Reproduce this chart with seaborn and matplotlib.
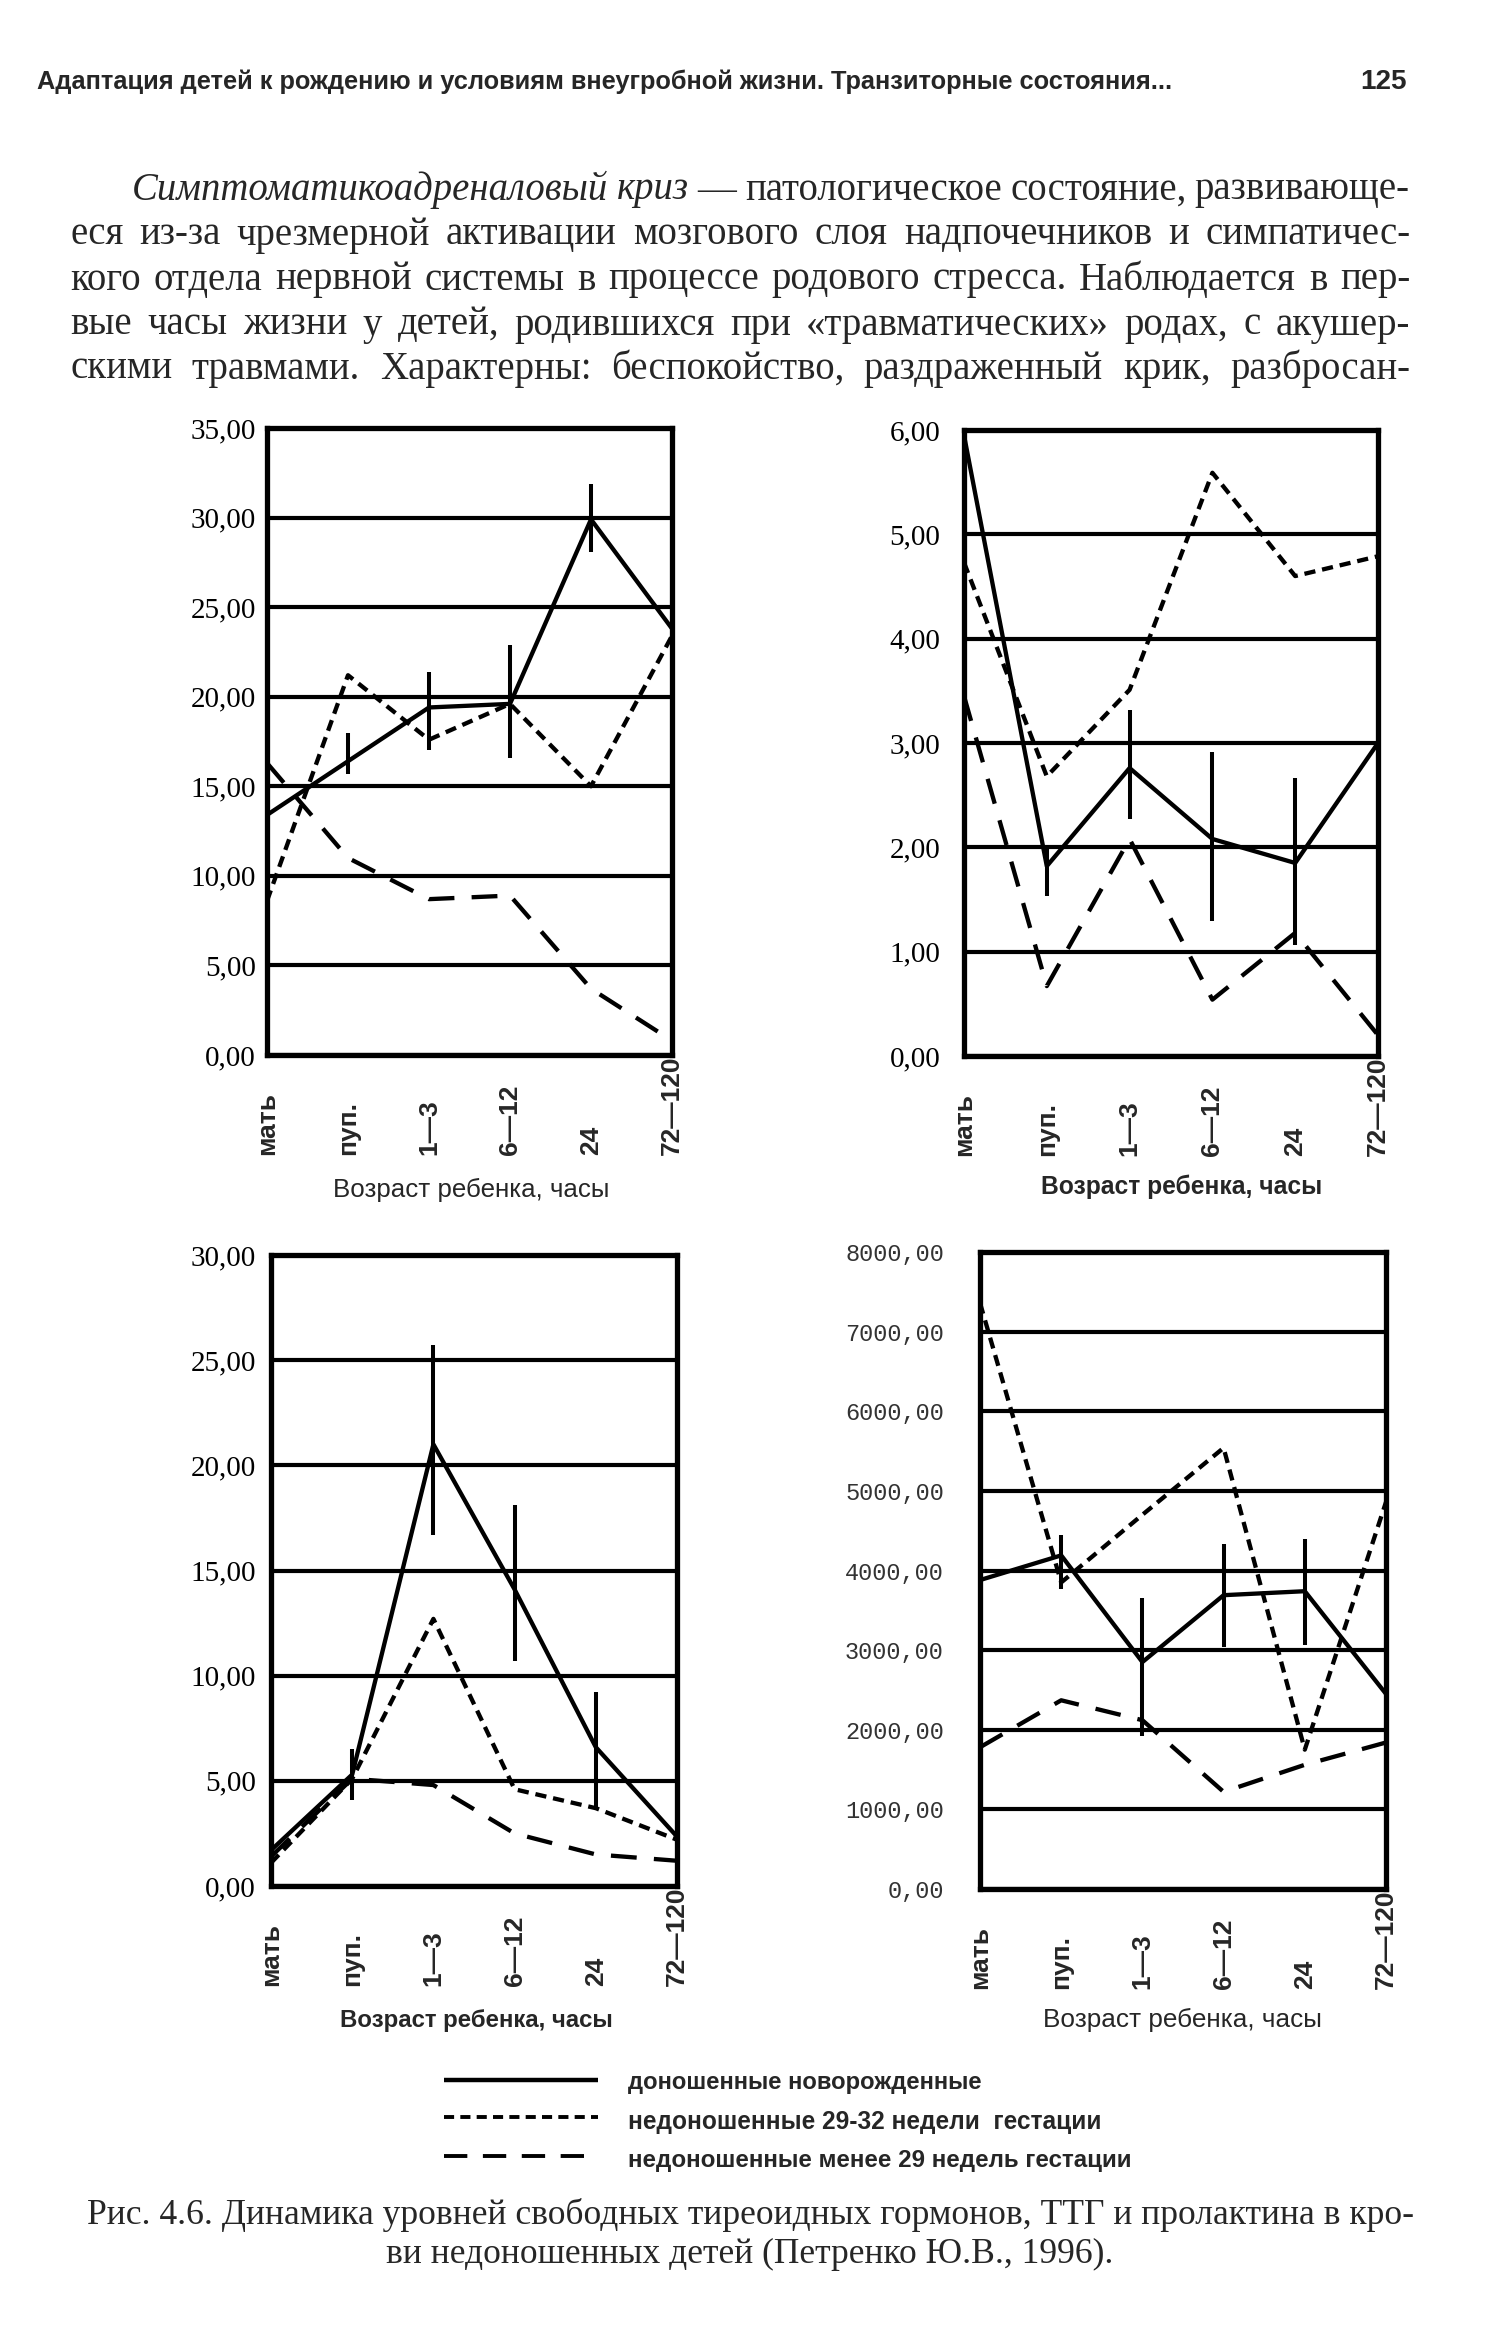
import numpy as np
import pandas as pd
import matplotlib
matplotlib.use("Agg")
import matplotlib.pyplot as plt
import seaborn as sns
from matplotlib import font_manager
from matplotlib.lines import Line2D

nan = np.nan

# ---------------- data ----------------
categories = ["мать", "пуп.", "1—3", "6—12", "24", "72—120"]
groups = ["доношенные новорожденные",
          "недоношенные 29-32 недели  гестации",
          "недоношенные менее 29 недель гестации"]

# panel A (top-left)
a_term = [13.4, 16.4, 19.4, 19.6, 29.9, 23.8]
a_term_lo = [nan, 15.7, 17.0, 16.6, 28.1, nan]
a_term_hi = [nan, 18.0, 21.4, 22.9, 31.9, nan]
a_p2932 = [8.6, 21.2, 17.6, 19.6, 15.0, 23.4]
a_p29 = [16.3, 11.0, 8.7, 8.9, 3.7, 0.8]
a_yticks = [0, 5, 10, 15, 20, 25, 30, 35]
a_ylabels = ["0,00", "5,00", "10,00", "15,00", "20,00", "25,00", "30,00", "35,00"]

# panel B (top-right)
b_term = [5.95, 1.82, 2.76, 2.08, 1.85, 3.0]
b_term_lo = [nan, 1.53, 2.27, 1.29, 1.06, nan]
b_term_hi = [nan, 1.99, 3.32, 2.91, 2.66, nan]
b_p2932 = [4.73, 2.68, 3.51, 5.59, 4.60, 4.79]
b_p29 = [3.45, 0.67, 2.08, 0.54, 1.18, 0.20]
b_yticks = [0, 1, 2, 3, 4, 5, 6]
b_ylabels = ["0,00", "1,00", "2,00", "3,00", "4,00", "5,00", "6,00"]

# panel C (bottom-left)
c_term = [1.7, 5.3, 21.0, 14.1, 6.6, 2.35]
c_term_lo = [nan, 4.1, 16.7, 10.7, 3.6, nan]
c_term_hi = [nan, 6.5, 25.7, 18.1, 9.2, nan]
c_p2932 = [1.1, 5.1, 12.7, 4.6, 3.7, 2.2]
c_p29 = [1.4, 5.1, 4.8, 2.5, 1.5, 1.2]
c_yticks = [0, 5, 10, 15, 20, 25, 30]
c_ylabels = ["0,00", "5,00", "10,00", "15,00", "20,00", "25,00", "30,00"]

# panel D (bottom-right)
d_term = [3880, 4190, 2850, 3690, 3740, 2450]
d_term_lo = [nan, 3770, 1920, 3040, 3070, nan]
d_term_hi = [nan, 4440, 3660, 4330, 4390, nan]
d_p2932 = [7360, 3850, 4700, 5540, 1750, 4860]
d_p29 = [1780, 2370, 2120, 1220, 1560, 1840]
d_yticks = [0, 1000, 2000, 3000, 4000, 5000, 6000, 7000, 8000]
d_ylabels = ["0,00", "1000,00", "2000,00", "3000,00", "4000,00",
             "5000,00", "6000,00", "7000,00", "8000,00"]

xlabel_text = "Возраст ребенка, часы"

header_text = "Адаптация детей к рождению и условиям внеугробной жизни. Транзиторные состояния..."
page_number = "125"

para_lines = [
    [("Симптоматикоадреналовый", "italic"), ("криз", "italic"), ("—", "normal"),
     ("патологическое", "normal"), ("состояние,", "normal"), ("развивающе-", "normal")],
    "еся из-за чрезмерной активации мозгового слоя надпочечников и симпатичес-",
    "кого отдела нервной системы в процессе родового стресса. Наблюдается в пер-",
    "вые часы жизни у детей, родившихся при «травматических» родах, с акушер-",
    "скими травмами. Характерны: беспокойство, раздраженный крик, разбросан-",
]
caption_1 = "Рис. 4.6. Динамика уровней свободных тиреоидных гормонов, ТТГ и пролактина в кро-"
caption_2 = "ви недоношенных детей (Петренко Ю.В., 1996)."

# ---------------- style ----------------
sns.set_theme(style="white", rc={"axes.facecolor": "white", "figure.facecolor": "white",
                                 "lines.solid_capstyle": "butt", "lines.dash_capstyle": "butt"})
names = {f.name for f in font_manager.fontManager.ttflist}
NARROW = "Liberation Sans Narrow" if "Liberation Sans Narrow" in names else "Liberation Sans"
SANS = "Liberation Sans"
SERIF = "Liberation Serif"
MONO = "Liberation Mono"
plt.rcParams["font.family"] = [SANS, "DejaVu Sans"]
plt.rcParams["axes.unicode_minus"] = False

W, H, DPI = 1492, 2346, 100
fig = plt.figure(figsize=(W / DPI, H / DPI), dpi=DPI, facecolor="white")
R = fig.canvas.get_renderer()


def rect(l, t, r, b):
    return [l / W, 1 - b / H, (r - l) / W, (b - t) / H]


def fy(ypx):
    return 1 - ypx / H


def fit(t, target_w):
    bb = t.get_window_extent(R)
    t.set_fontsize(t.get_fontsize() * target_w / bb.width)


LW = 3.1
dash_map = {groups[0]: "", groups[1]: (2.6, 1.6), groups[2]: (6.0, 4.0)}

panels = [
    dict(box=(267, 428, 672, 1055), term=a_term, lo=a_term_lo, hi=a_term_hi,
         p1=a_p2932, p2=a_p29, ymax=35, yt=a_yticks, yl=a_ylabels,
         yfont=SERIF, yfs=21, ypad=8, ycolor="black",
         xw="normal", xl=(471, 1190, 276)),
    dict(box=(964, 430, 1378, 1056), term=b_term, lo=b_term_lo, hi=b_term_hi,
         p1=b_p2932, p2=b_p29, ymax=6, yt=b_yticks, yl=b_ylabels,
         yfont=SERIF, yfs=21, ypad=17, ycolor="black",
         xw="bold", xl=(1182, 1187, 280)),
    dict(box=(271, 1255, 677, 1886), term=c_term, lo=c_term_lo, hi=c_term_hi,
         p1=c_p2932, p2=c_p29, ymax=30, yt=c_yticks, yl=c_ylabels,
         yfont=SERIF, yfs=21, ypad=11, ycolor="black",
         xw="bold", xl=(476, 2020, 273)),
    dict(box=(980, 1252, 1386, 1889), term=d_term, lo=d_term_lo, hi=d_term_hi,
         p1=d_p2932, p2=d_p29, ymax=8000, yt=d_yticks, yl=d_ylabels,
         yfont=MONO, yfs=17, ypad=26, ycolor="#333333",
         xw="normal", xl=(1182, 2020, 278)),
]

pos = np.arange(len(categories))
for p in panels:
    l, t, r, b = p["box"]
    ax = fig.add_axes(rect(l, t, r, b))
    df = pd.DataFrame({
        "pos": np.tile(pos, 3),
        "value": list(p["term"]) + list(p["p1"]) + list(p["p2"]),
        "group": [g for g in groups for _ in pos],
    })
    sns.lineplot(data=df, x="pos", y="value", style="group", style_order=groups,
                 dashes=dash_map, color="black", linewidth=LW, legend=False,
                 estimator=None, sort=False, ax=ax)
    lo = np.array(p["lo"], dtype=float)
    hi = np.array(p["hi"], dtype=float)
    m = ~np.isnan(lo)
    ax.vlines(pos[m], lo[m], hi[m], color="black", lw=2.9)

    ax.set_xlim(0, 5)
    ax.set_ylim(0, p["ymax"])
    ax.set_yticks(p["yt"])
    ax.set_yticklabels(p["yl"], family=p["yfont"], fontsize=p["yfs"], color=p["ycolor"])
    ax.tick_params(axis="y", length=0, pad=p["ypad"])
    ax.set_xticks(pos)
    ax.tick_params(axis="x", length=0, pad=72)
    ax.set_xticklabels(categories, rotation=90, fontweight="bold", fontsize=19, family=SANS)
    for lbl in ax.get_xticklabels():
        lbl.set_va("bottom")
    ax.grid(axis="y", color="black", lw=3.0)
    ax.grid(axis="x", visible=False)
    for s in ax.spines.values():
        s.set_visible(True)
        s.set_color("black")
        s.set_linewidth(3.8)
    ax.set_ylabel("")
    cx, cy, wt = p["xl"]
    ax.set_xlabel(xlabel_text, family=NARROW, fontweight=p["xw"], fontsize=20)
    ax.xaxis.set_label_coords((cx - l) / (r - l), (b - cy) / (b - t))
    ax.xaxis.label.set_va("center")
    fit(ax.xaxis.label, wt)

# ---------------- header ----------------
th = fig.text(37 / W, fy(82), header_text, family=NARROW, weight="bold", fontsize=20,
              va="center", ha="left")
fit(th, 1135)
tn = fig.text(1407 / W, fy(82), page_number, family=NARROW, weight="bold",
              fontsize=th.get_fontsize() * 1.1, va="center", ha="right")


# ---------------- paragraph ----------------
def place_justified(lines, lefts, right, ys, base_fs=30, min_space=0.22):
    made = []
    fs_needed = base_fs
    for words, x0, y in zip(lines, lefts, ys):
        if isinstance(words, str):
            words = [(w, "normal") for w in words.split(" ")]
        texts = [fig.text(0, fy(y), w, family=SERIF, style=st, fontsize=base_fs,
                          va="center", ha="left") for w, st in words]
        widths = [tt.get_window_extent(R).width for tt in texts]
        need = sum(widths) + (len(texts) - 1) * min_space * base_fs * DPI / 72
        fs_needed = min(fs_needed, base_fs * (right - x0) / need)
        made.append((texts, widths, x0))
    for texts, widths, x0 in made:
        k = fs_needed / base_fs
        ws = [w * k for w in widths]
        for tt in texts:
            tt.set_fontsize(fs_needed)
        gap = (right - x0 - sum(ws)) / max(len(texts) - 1, 1)
        x = x0
        for tt, w in zip(texts, ws):
            tt.set_x(x / W)
            x += w + gap
    return fs_needed


place_justified(para_lines, [132, 70, 70, 70, 70], 1410, [190, 235, 280, 325, 369], base_fs=30)

# ---------------- legend ----------------
leg_y_line = [2080, 2117, 2156]
leg_y_text = [2083, 2122, 2160]
leg_w = [354, 474, 504]
for g, yl, yt, wt in zip(groups, leg_y_line, leg_y_text, leg_w):
    ln = Line2D([444 / W, 598 / W], [fy(yl), fy(yl)], transform=fig.transFigure,
                color="black", lw=3.2 if g == groups[0] else 2.8)
    if dash_map[g]:
        ln.set_dashes(dash_map[g])
    fig.add_artist(ln)
    tx = fig.text(628 / W, fy(yt), g, family=NARROW, weight="bold", fontsize=20,
                  va="center", ha="left")
    fit(tx, wt)

# ---------------- caption ----------------
c1 = fig.text(87 / W, fy(2215), caption_1, family=SERIF, fontsize=26, va="center", ha="left")
fit(c1, 1414 - 87)
c2 = fig.text(386 / W, fy(2254), caption_2, family=SERIF, fontsize=c1.get_fontsize(),
              va="center", ha="left")

fig.savefig("out.png", dpi=DPI, facecolor="white")
